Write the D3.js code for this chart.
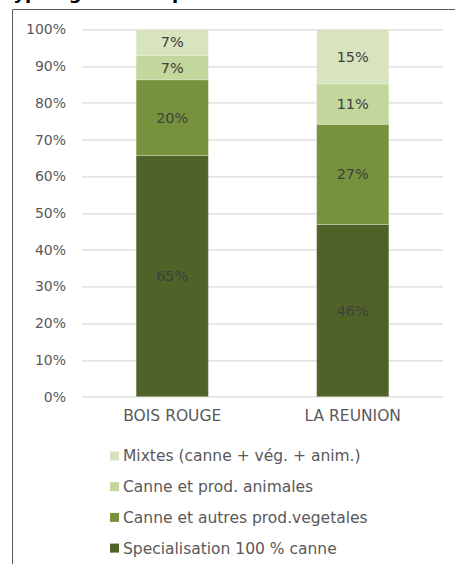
<!DOCTYPE html>
<html>
<head>
<meta charset="utf-8">
<script src="https://cdn.jsdelivr.net/npm/d3@7"></script>
<style>
  body { margin: 0; background: #fff; }
  svg { display: block; font-family: "DejaVu Sans", sans-serif; }
</style>
</head>
<body>
<script>
// categories and series (values as shown on the data labels, the chart is 100% stacked)
const categories = ["BOIS ROUGE", "LA REUNION"];
const seriesNames = [
    "Specialisation 100 % canne",
    "Canne et autres prod.vegetales",
    "Canne et prod. animales",
    "Mixtes (canne + vég. + anim.)"
];
const specialisation = [65, 46.4];
const autresVeg = [20.4, 27];
const prodAnimales = [6.6, 10.9];
const mixtes = [7, 14.7];
const seriesColors = ["#4f6228", "#76923c", "#c3d69b", "#d7e4bd"];
const yTicks = [0, 0.1, 0.2, 0.3, 0.4, 0.5, 0.6, 0.7, 0.8, 0.9, 1];

const W = 455, H = 564;
const margin = {top: 29.3, right: 12, bottom: 167.3, left: 82};
const width = W - margin.left - margin.right,
    height = H - margin.top - margin.bottom;
const labelFont = "DejaVu Sans, sans-serif";

const svg = d3.select("body").append("svg")
    .attr("width", W)
    .attr("height", H);

// title, mostly cut off by the top of the picture
svg.append("text")
    .attr("x", 3)
    .attr("y", -1)
    .attr("font-size", 18)
    .attr("font-weight", "bold")
    .attr("fill", "#000")
    .text("Typologie des exploitations du bassin Bois Rouge");

// chart frame
svg.append("path")
    .attr("d", "M12.5," + H + "V9.5H" + W)
    .attr("fill", "none")
    .attr("stroke", "#595959")
    .attr("stroke-width", 1);

const g = svg.append("g")
    .attr("transform", "translate(" + margin.left + "," + margin.top + ")");

let table = categories.map((c, i) => ({
    cat: c,
    s0: specialisation[i],
    s1: autresVeg[i],
    s2: prodAnimales[i],
    s3: mixtes[i]
}));
const keys = ["s0", "s1", "s2", "s3"];
const stacked = d3.stack().keys(keys).offset(d3.stackOffsetExpand)(table);

let xScale = d3.scaleBand()
    .domain(categories)
    .range([0, width]);
let yScale = d3.scaleLinear()
    .domain([0, 1])
    .range([height, 0]);

// gridlines
g.selectAll("line.grid")
    .data(yTicks)
    .enter()
    .append("line")
    .attr("class", "grid")
    .attr("x1", 0)
    .attr("x2", width)
    .attr("y1", d => Math.round(yScale(d)) + 0.5)
    .attr("y2", d => Math.round(yScale(d)) + 0.5)
    .attr("stroke", "#d9d9d9")
    .attr("stroke-width", 1.2);

// y-axis labels
const yAxis = g.append("g")
    .call(d3.axisLeft(yScale).tickValues(yTicks).tickFormat(d3.format(".0%")).tickSize(0).tickPadding(16));
yAxis.select(".domain").remove();
yAxis.selectAll("text")
    .attr("font-size", 14)
    .attr("font-family", labelFont)
    .attr("fill", "#595959");

// bars
const barW = xScale.bandwidth() * 0.4;
const layers = g.selectAll("g.layer")
    .data(stacked)
    .enter()
    .append("g")
    .attr("class", "layer")
    .attr("fill", (d, i) => seriesColors[i]);

layers.selectAll("rect")
    .data(d => d)
    .enter()
    .append("rect")
    .attr("x", d => xScale(d.data.cat) + xScale.bandwidth() / 2 - barW / 2)
    .attr("width", barW)
    .attr("y", d => yScale(d[1]))
    .attr("height", d => yScale(d[0]) - yScale(d[1]))
    .attr("stroke", "#fff")
    .attr("stroke-opacity", 0.25)
    .attr("stroke-width", 1);

// data labels
layers.selectAll("text")
    .data(d => d.map(p => ({p: p, key: d.key})))
    .enter()
    .append("text")
    .attr("x", d => xScale(d.p.data.cat) + xScale.bandwidth() / 2)
    .attr("y", d => yScale((d.p[0] + d.p[1]) / 2))
    .attr("dy", "0.35em")
    .attr("text-anchor", "middle")
    .attr("font-size", 14.5)
    .attr("font-family", labelFont)
    .attr("fill", "#404040")
    .text(d => Math.round(d.p.data[d.key]) + "%");

// x-axis labels
const xAxis = g.append("g")
    .attr("transform", "translate(0," + height + ")")
    .call(d3.axisBottom(xScale).tickSize(0).tickPadding(13));
xAxis.select(".domain").remove();
xAxis.selectAll("text")
    .attr("font-size", 15.5)
    .attr("font-family", labelFont)
    .attr("fill", "#595959");

// legend, top entry is the last series
const legendOrder = [3, 2, 1, 0];
const legend = svg.append("g")
    .attr("transform", "translate(110,456)");
legendOrder.forEach((s, i) => {
    const row = legend.append("g")
        .attr("transform", "translate(0," + (i * 30.7) + ")");
    row.append("rect")
        .attr("x", 0)
        .attr("y", -4.5)
        .attr("width", 9)
        .attr("height", 9)
        .attr("fill", seriesColors[s]);
    row.append("text")
        .attr("x", 13)
        .attr("y", 0)
        .attr("dy", "0.35em")
        .attr("font-size", 15.5)
        .attr("font-family", labelFont)
        .attr("fill", "#595959")
        .text(seriesNames[s]);
});
</script>
</body>
</html>
